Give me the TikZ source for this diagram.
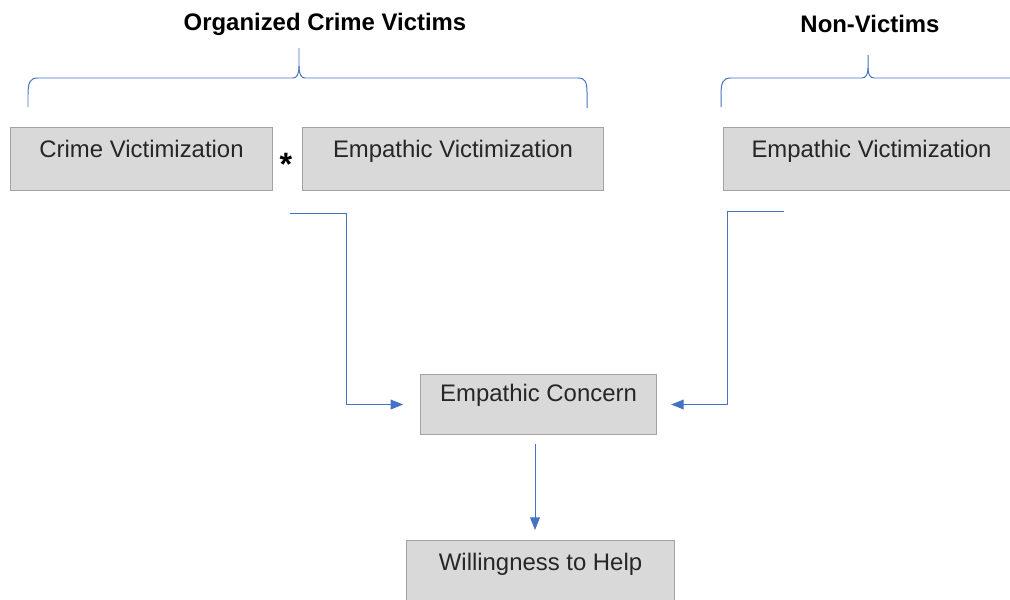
\documentclass[tikz,border=0pt]{standalone}
\usepackage{fontspec}
\setmainfont{Liberation Sans}
\usepackage[dvipsnames]{xcolor}
\usetikzlibrary{arrows.meta}

\definecolor{linkblue}{HTML}{4472C4}
\definecolor{boxfill}{HTML}{D9D9D9}
\definecolor{boxline}{HTML}{A3A3A3}

\begin{document}
\begin{tikzpicture}[x=0.025cm,y=-0.025cm,
    box/.style={draw=boxline,fill=boxfill,line width=0.7pt,anchor=north west,inner sep=0pt,text height=21pt,text=black!85,font=\fontsize{17}{20}\selectfont},
    title/.style={anchor=base,font=\bfseries\fontsize{17}{20}\selectfont},
    link/.style={draw=linkblue,line width=0.7pt,-{Triangle[length=9pt,width=7pt]}},
    brace/.style={draw=linkblue,line width=0.7pt}]
    \useasboundingbox (0,0) rectangle (1010,599);
    \clip (0,0) rectangle (1010,599);

    % groups
    \node[title] (6) at (325,30) {Organized Crime Victims};
    \node[title] (7) at (870,32) {Non-Victims};

    \draw[brace] (28,107) -- (28,95) .. controls (28,82) and (30,78) .. (38,78) -- (293,78)
        .. controls (297,78) and (299,74) .. (299,66) -- (299,48);
    \draw[brace] (299,66) .. controls (299,74) and (301,78) .. (305,78) -- (578,78)
        .. controls (585,78) and (587,82) .. (587,92) -- (587,108);
    \draw[brace] (721,107) -- (721,95) .. controls (721,82) and (723,78) .. (731,78) -- (862,78)
        .. controls (866,78) and (868,74) .. (868,68) -- (868,55);
    \draw[brace] (868,68) .. controls (868,74) and (870,78) .. (874,78) -- (1012,78);

    % boxes
    \node[box,minimum width=6.55cm,text depth=23.8pt] (1) at (10,127) {Crime Victimization};
    \node[box,minimum width=7.525cm,text depth=23.8pt] (2) at (302,127) {Empathic Victimization};
    \node[box,minimum width=7.4cm,text depth=23.8pt] (3) at (723,127) {Empathic Victimization};
    \node[box,minimum width=5.9cm,text height=19pt,text depth=23.7pt] (4) at (420,374) {Empathic Concern};
    \node[box,minimum width=6.7cm,text depth=30pt] (5) at (406,540) {Willingness to Help};

    \node[font=\bfseries\fontsize{23}{23}\selectfont,inner sep=0pt] (8) at (286,164) {*};

    % connectors
    \coordinate (a) at (290,213);
    \coordinate (b) at (784,211);
    \draw[link,shorten >=0.42cm] (a) -- (346,213) |- (4.west);
    \draw[link,shorten >=0.35cm] (b) -- (727,211) |- (4.east);
    \draw[link,shorten <=0.22cm,shorten >=0.25cm] (4.south -| 535,0) -- (5.north -| 535,0);
\end{tikzpicture}
\end{document}
